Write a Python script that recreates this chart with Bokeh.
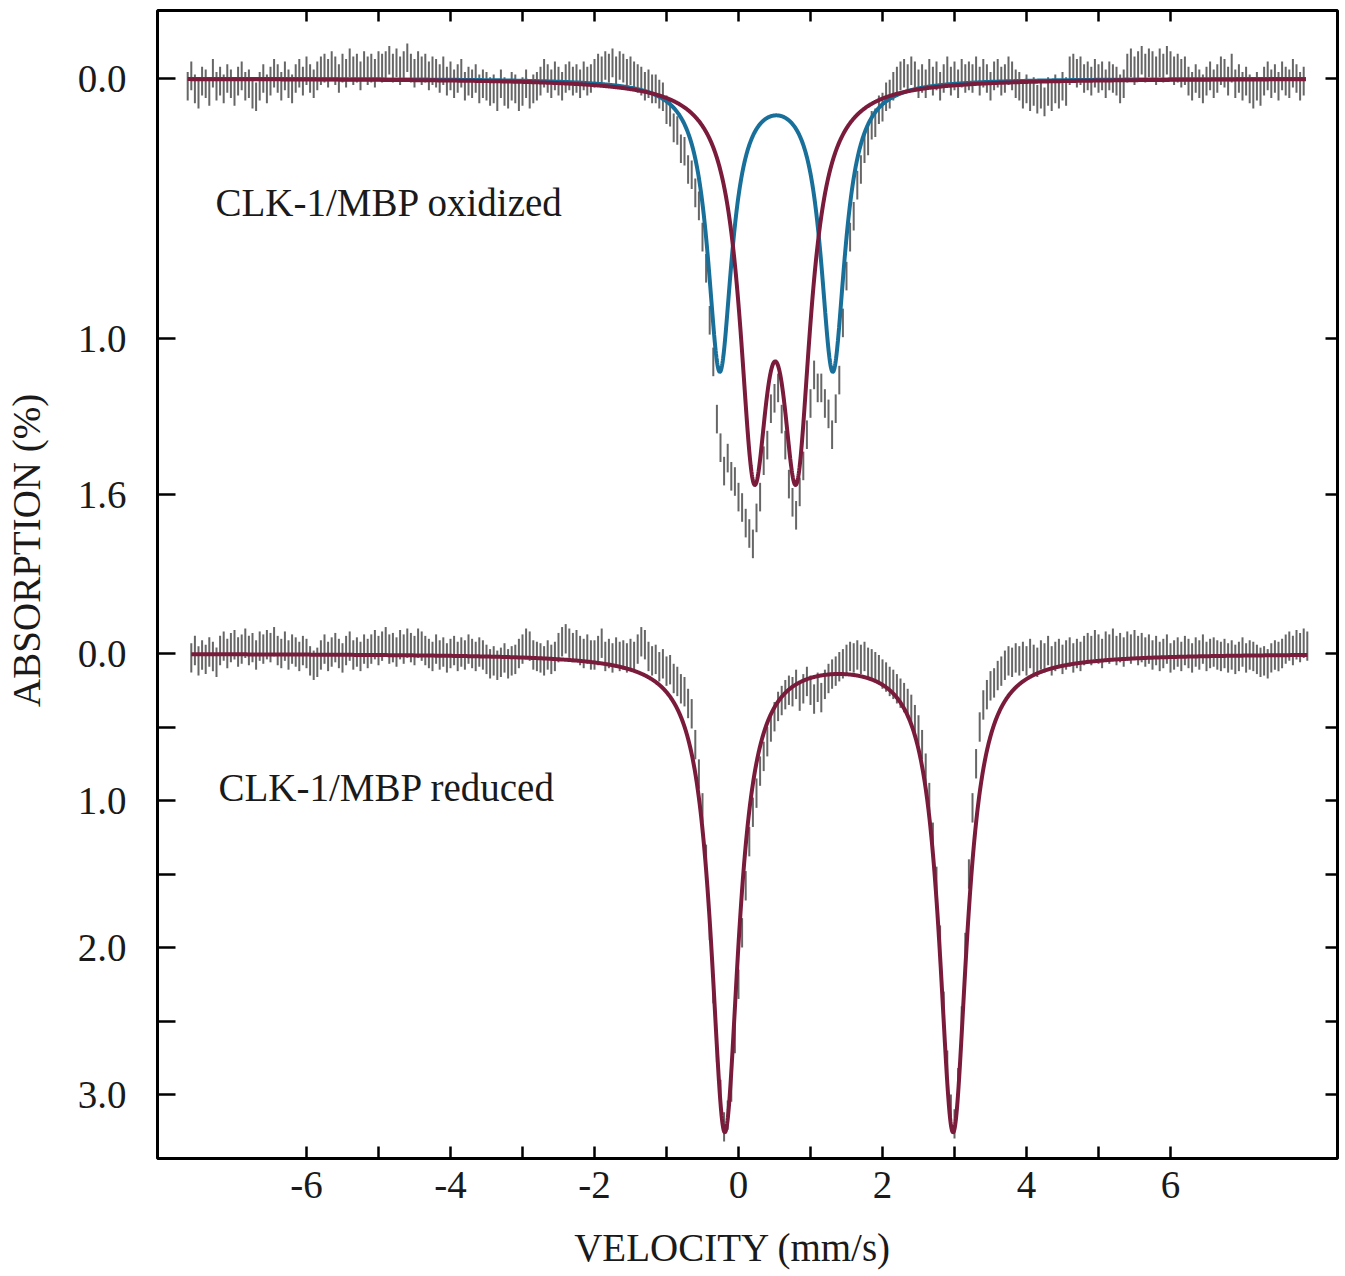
import numpy as np
from bokeh.plotting import figure
from bokeh.models import (Range1d, LinearAxis, FixedTicker, CustomJSTickFormatter,
                          Label, ColumnDataSource)
from bokeh.embed import file_html
from bokeh.resources import INLINE

# ---------------- data ----------------
# channel velocities: first channel and channel step (mm/s)
ox_v_start, ox_v_step = -7.65, 0.05
rd_v_start, rd_v_step = -7.60, 0.05

# measured absorption, in units of 0.01 %
oxidized_abs = [
    3, -1, 4, 6, 1, 2, 5, -2, 3, 1, 4, 0, 2, 5, 1, -1, 3,
    2, 6, 7, 3, 0, 4, 1, -2, 0, 3, -1, 2, 4, 0, -2, 1, -3, 0, 2,
    -1, -3, -4, -2, -5, -3, 0, -4, -2, -6, -3, -4, -1, -5, -3, -4, -2, -5, -4,
    -5, -7, -4, -6, -3, -5, -8, -4, -2, -5, -3, -4, -1, -3,
    -2, 0, -3, 1, -1, 2, 0, -2, 3, 1, 2, 0, 4, 2,
    3, 5, 4, 7, 2, 5, 6, 3, 4, 7, 5, 2, 6, 4, 3,
    1, -2, 0, 2, -1, 1, 3, 0, -1,
    1, 0, 2, -1, 1, 0,
    -2, -4, -3, -5, -4, -6, -3, -5, -4, -2, -3, -1,
    0, 1, 3, 2, 4,
    4, 6, 7, 12, 13, 19, 20, 27, 28, 35, 37, 44, 49, 61, 73, 93, 109, 131, 142, 151,
    146, 153, 155, 161, 165, 171, 175, 179, 169, 161, 147, 141, 127, 123, 119, 131, 141, 156, 163, 168,
    159, 149, 137, 125, 114, 119, 119, 125, 129, 137, 127, 116, 94, 76, 61, 53, 41, 35, 27, 24,
    18, 17, 12, 11, 7, 6, 3,
    1, -1, -2, 0, -3, -1, 2,
    0, 2, -2, 1, -1, 3, 0, -3, 1, -1, 2, -2, 0,
    -1, 0, -3, 1, -2, 0, 3, -1, -2, 1, 0, -3, -1, 2,
    3, 6, 4, 7, 5, 8, 6, 9, 5, 7, 4, 6, 3, 5,
    -3, -4, -2, -3, 0, -1, 1, -2, 0, -1, 2, -1, 0, 1,
    4, 2,
    -4, -6, -3, -5, -7, -4, -6, -5, -3, -6, -4, -7, -5, -3, -4, -2, -3,
    1, 3, 0, 2, 4, 1, -1, 2,
    0, -3, -2, 1, -4, 2, 0, 3, 1,
    4, 6, 3, 5,
    1, -1, 2, 0, 3, -1, 1, 2, -2, 0, 3, 1,
]
reduced_abs = [
    3, -2, 5, 1, 4, -1, 2, 6,
    -2, -5, 0, -4, -6, -1, -3, -7, -2, -4, 1, -5, -3, -6,
    -4, -8, -2, 0, -5, 1, -3, -1, 2, -2, 0, 5, 8,
    6, 1, -3, 2, -1, -4, 0, 3, -2, -5, 1, -1, 2, -3, 0,
    -3, -6, -2, -5, -8, -3, -4, -1, -6, -3, -7, -4, -2,
    -7, -5, -2, 0, 2, -3, 1, -1, 3, 0, -2, 2, -1, 1, -3, 0, 2, -1, 1,
    4, 7, 5, 8, 6, 3, 7, 5, 4,
    0, -3, -7, -5, 1, 2,
    3, 5, 1, 4, 2, -4, -8, -10,
    -7, -4, -6, -2, 0, -3, 1,
    1, -2, -7, 2, 0, 3, -1, 2, 1, 3, 0, 2, -3, -8,
    -6, 2, 5, 4, 9, 7, 12, 11, 17, 19, 24, 26, 34, 41,
    62, 82, 105, 140, 185, 228, 268, 300, 322, 314, 295, 262, 225, 190, 158, 128, 108,
    95, 80, 70, 60, 50, 43, 36, 32, 28, 25,
    26, 21, 29, 24, 19, 25, 31, 23, 30, 21, 17, 14,
    12, 9, 7, 4, 2, 3, 1, 4, 2, 6, 7, 9, 11, 14, 16, 19,
    21, 24, 27, 30, 34, 38, 45, 52, 62,
    78, 98, 125, 155, 195, 240, 280, 310, 320, 292, 250, 200, 150, 105, 75, 50, 35,
    28, 22, 20, 15, 12, 8, 5, 6, 3, 5,
    2, 5, 0, 4, 6, 1, 3, -2, 5, 2, 0, 4, 1, -1, 3, 0, 2, -2,
    -4, -2, -6, -3, 0, -5, -3, -7, -2, -4, -1, -5, -3, -6, -2, -4, -1, -3,
    1, -2, 2, 0, -3, 3, 1, -1, 2, -2, 0, 3, -1, 1, -3, 2, 0, -1, 1,
    2, 0, 3, 1, 4, 2, -1, 3, 1, 2, 4, 6, 5, 7, 3, 1, 2, 0,
    -3, -5, -2, -6, -4, -7, -5,
]
oxidized_err = 0.055   # error bar half length, %
reduced_err = 0.10

# fitted quadrupole doublets (Lorentzian lines): centres (mm/s), HWHM (mm/s), depth (%)
ox_blue_centers, ox_blue_hwhm, ox_blue_depth = [-0.26, 1.31], 0.205, 1.11
ox_red_centers, ox_red_hwhm, ox_red_depth = [0.215, 0.805], 0.24, 1.366
rd_red_centers, rd_red_hwhm, rd_red_depth = [-0.19, 2.98], 0.235, 3.24
ox_fit_span = [-7.65, 7.88]
rd_fit_span = [-7.60, 7.90]

panel_labels = ["CLK-1/MBP oxidized", "CLK-1/MBP reduced"]
x_title = "VELOCITY (mm/s)"
y_title = "ABSORPTION (%)"
x_ticks = [-6, -5, -4, -3, -2, -1, 0, 1, 2, 3, 4, 5, 6]
x_tick_labels = ["-6", "", "-4", "", "-2", "", "0", "", "2", "", "4", "", "6"]
top_y_ticks = [0.0, 1.0, 1.6]
top_y_labels = ["0.0", "1.0", "1.6"]
bot_y_ticks = [0.0, 0.5, 1.0, 1.5, 2.0, 2.5, 3.0]
bot_y_labels = ["0.0", "", "1.0", "", "2.0", "", "3.0"]

# ---------------- layout of the stacked panels ----------------
TOP_SCALE = 260.0 / 147.0      # top panel drawn 1.77x taller per % than bottom
BOT_OFFSET = 575.0 / 147.0     # bottom panel zero sits below the top one

def top_y(a):
    return np.asarray(a, dtype=float) * TOP_SCALE

def bot_y(b):
    return BOT_OFFSET + np.asarray(b, dtype=float)

def doublet(v, centers, hwhm, depth):
    g2 = hwhm ** 2
    return sum(depth * g2 / ((v - c) ** 2 + g2) for c in centers)

SERIF = "Liberation Serif"
RED = "#7a1b3c"
BLUE = "#18709a"
GRAY = "#666666"
INK = "#1a1a1a"
NB = "\u00a0"

p = figure(width=1340, height=1276, output_backend="svg", toolbar_location=None,
           x_range=Range1d(-8.0694, 8.3194), y_range=Range1d(7.3469, -0.4626),
           min_border_left=157, min_border_top=10, min_border_right=3, min_border_bottom=118)
p.background_fill_color = "white"
p.border_fill_color = "white"
p.xgrid.visible = False
p.ygrid.visible = False
p.outline_line_color = "black"
p.outline_line_width = 3

# ---- measured data with error bars ----
ox_v = ox_v_start + ox_v_step * np.arange(len(oxidized_abs))
ox_a = np.array(oxidized_abs) / 100.0
rd_v = rd_v_start + rd_v_step * np.arange(len(reduced_abs))
rd_b = np.array(reduced_abs) / 100.0

src_ox = ColumnDataSource(dict(x=ox_v, y0=top_y(ox_a - oxidized_err), y1=top_y(ox_a + oxidized_err)))
src_rd = ColumnDataSource(dict(x=rd_v, y0=bot_y(rd_b - reduced_err), y1=bot_y(rd_b + reduced_err)))
p.segment(x0="x", y0="y0", x1="x", y1="y1", source=src_ox, line_color=GRAY, line_width=2.0)
p.segment(x0="x", y0="y0", x1="x", y1="y1", source=src_rd, line_color=GRAY, line_width=2.0)

# ---- fitted curves ----
vf_ox = np.linspace(ox_fit_span[0], ox_fit_span[1], 3000)
vf_rd = np.linspace(rd_fit_span[0], rd_fit_span[1], 3000)
p.line(vf_ox, top_y(doublet(vf_ox, ox_blue_centers, ox_blue_hwhm, ox_blue_depth)),
       line_color=BLUE, line_width=4)
p.line(vf_ox, top_y(doublet(vf_ox, ox_red_centers, ox_red_hwhm, ox_red_depth)),
       line_color=RED, line_width=4)
p.line(vf_rd, bot_y(doublet(vf_rd, rd_red_centers, rd_red_hwhm, rd_red_depth)),
       line_color=RED, line_width=4)

# ---- axes ----
def lookup_formatter(pos, labs):
    return CustomJSTickFormatter(args=dict(pos=list(pos), labs=list(labs)), code="""
        for (let i = 0; i < pos.length; i++) {
            if (Math.abs(tick - pos[i]) < 1e-6) { return labs[i]; }
        }
        return "";
    """)

blank_formatter = CustomJSTickFormatter(code='return "";')

y_pos = list(top_y(top_y_ticks)) + list(bot_y(bot_y_ticks))
y_labs = top_y_labels + bot_y_labels

def style_axis(ax, tick_len, show_labels):
    ax.axis_line_color = None
    ax.major_tick_in = tick_len
    ax.major_tick_out = 0
    ax.minor_tick_line_color = None
    ax.major_tick_line_width = 2.5
    ax.major_tick_line_color = "black"
    if show_labels:
        ax.major_label_text_font = SERIF
        ax.major_label_text_font_size = "39px"
        ax.major_label_text_color = INK
        ax.axis_label_text_font = SERIF
        ax.axis_label_text_font_size = "39px"
        ax.axis_label_text_font_style = "normal"
        ax.axis_label_text_color = INK
    else:
        ax.formatter = blank_formatter
        ax.major_label_text_font_size = "1px"
        ax.major_label_text_color = None
        ax.major_label_standoff = 0

yl = p.yaxis[0]
yl.ticker = FixedTicker(ticks=y_pos)
yl.formatter = lookup_formatter(y_pos, y_labs)
style_axis(yl, 18, True)
yl.major_label_standoff = 31
# leading no-break spaces shift the centred title up, as in the original
yl.axis_label = NB * 7 + y_title
yl.axis_label_standoff = 27

yr = LinearAxis(ticker=FixedTicker(ticks=y_pos))
style_axis(yr, 12, False)
p.add_layout(yr, "right")

xb = p.xaxis[0]
xb.ticker = FixedTicker(ticks=x_ticks)
xb.formatter = lookup_formatter(x_ticks, x_tick_labels)
style_axis(xb, 12, True)
xb.major_label_standoff = 13
xb.axis_label = x_title + NB * 3
xb.axis_label_standoff = 25

xt = LinearAxis(ticker=FixedTicker(ticks=x_ticks))
style_axis(xt, 11, False)
p.add_layout(xt, "above")

# ---- panel texts (pixel offsets inside the plot frame) ----
for text, x, y in [(panel_labels[0], 58, 956), (panel_labels[1], 61, 371)]:
    p.add_layout(Label(x=x, y=y, x_units="screen", y_units="screen", text=text,
                       text_font=SERIF, text_font_size="39px", text_color=INK,
                       text_align="left", text_baseline="middle"))

open("out.html", "w").write(file_html(p, INLINE))
